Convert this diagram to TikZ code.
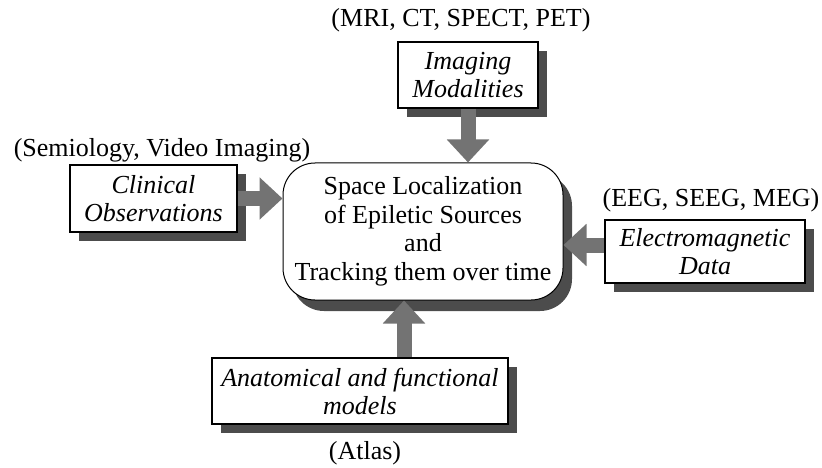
\documentclass[tikz,border=0pt]{standalone}
\usepackage{fontspec}
\setmainfont{Liberation Serif}
\usetikzlibrary{arrows.meta}
\usetikzlibrary{shadows}

\tikzset{
  srcbox/.style={draw, line width=1.6pt, fill=white, align=center, inner sep=0pt,
    font=\fontsize{26}{28}\selectfont\itshape,
    drop shadow={shadow xshift=9pt, shadow yshift=-9pt, fill=black!70, opacity=1}},
  hubbox/.style={draw, line width=1pt, fill=white, align=center, inner sep=0pt,
    rounded corners=32pt, font=\fontsize{26}{28.5}\selectfont,
    drop shadow={shadow xshift=9pt, shadow yshift=-11pt, fill=black!70, opacity=1}},
  srclabel/.style={inner sep=0pt, font=\fontsize{26}{28}\selectfont},
  feed/.style={line width=15pt, draw=black!55, -{Triangle[width=41pt,length=23pt,fill=black!55]}}
}

\begin{document}
\begin{tikzpicture}[x=1pt,y=-1pt]
\useasboundingbox (0,0) rectangle (822,468);

\node[hubbox, minimum width=280pt, minimum height=137pt] (hub) at (423,231.5)
  {Space Localization\\of Epiletic Sources\\and\\Tracking them over time};

\node[srcbox, minimum width=140pt, minimum height=66pt] (imaging) at (468,75) {Imaging\\Modalities};
\node[srclabel] (imaginglbl) at (461,20) {(MRI, CT, SPECT, PET)};

\node[srcbox, minimum width=167pt, minimum height=67pt] (clinical) at (153.5,198.5) {Clinical\\Observations};
\node[srclabel] (clinicallbl) at (162,150) {(Semiology, Video Imaging)};

\node[srcbox, minimum width=200pt, minimum height=63pt] (electro) at (705,251.5) {Electromagnetic\\Data};
\node[srclabel] (electrolbl) at (711,200) {(EEG, SEEG, MEG)};

\node[srcbox, minimum width=296pt, minimum height=66pt] (anatomy) at (360,391) {Anatomical and functional\\models};
\node[srclabel] (anatomylbl) at (365,453) {(Atlas)};

% block arrows into the hub
\draw[feed] (imaging.south) -- (imaging.south |- hub.north);
\draw[feed] (clinical.east) -- (clinical.east -| hub.west);
\draw[feed] ([yshift=6.5pt]electro.west) -- ([yshift=6.5pt]electro.west -| hub.east);
\draw[feed] ([xshift=44pt]anatomy.north) -- ([xshift=44pt]anatomy.north |- hub.south);
\end{tikzpicture}
\end{document}
